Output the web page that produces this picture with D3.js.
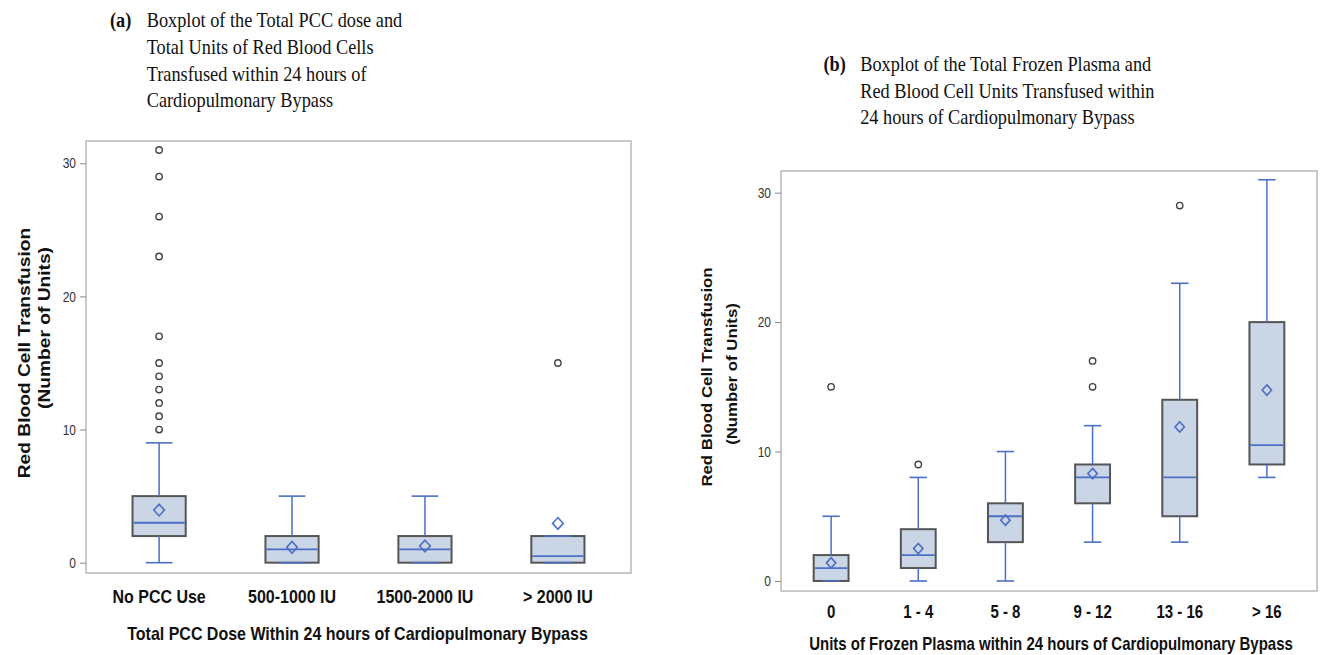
<!DOCTYPE html>
<html>
<head>
<meta charset="utf-8">
<script src="https://cdn.jsdelivr.net/npm/d3@7"></script>
<style>
  body { margin: 0; background: #fff; }
  svg { display: block; }
  .sans { font-family: "Liberation Sans", Arial, sans-serif; }
  .serif { font-family: "Liberation Serif", "Times New Roman", serif; }
</style>
</head>
<body>
<svg width="1322" height="655"></svg>
<script>
// Panel (a): total PCC dose
var pccGroups   = ["No PCC Use", "500-1000 IU", "1500-2000 IU", "> 2000 IU"];
var pccLow      = [0, 0, 0, 0];
var pccQ1       = [2, 0, 0, 0];
var pccMedian   = [3, 1, 1, 0.5];
var pccQ3       = [5, 2, 2, 2];
var pccHigh     = [9, 5, 5, 2];
var pccMean     = [3.95, 1.15, 1.25, 2.95];
var pccOutliers = [[10, 11, 12, 13, 14, 15, 17, 23, 26, 29, 31], [], [], [15]];

// Panel (b): units of frozen plasma
var ffpGroups   = ["0", "1 - 4", "5 - 8", "9 - 12", "13 - 16", "> 16"];
var ffpLow      = [0, 0, 0, 3, 3, 8];
var ffpQ1       = [0, 1, 3, 6, 5, 9];
var ffpMedian   = [1, 2, 5, 8, 8, 10.5];
var ffpQ3       = [2, 4, 6, 9, 14, 20];
var ffpHigh     = [5, 8, 10, 12, 23, 31];
var ffpMean     = [1.4, 2.5, 4.7, 8.3, 11.9, 14.75];
var ffpOutliers = [[15], [9], [], [15, 17], [29], []];

var yTicks = [0, 10, 20, 30];

var titleA = ["Boxplot of the Total PCC dose and", "Total Units of Red Blood Cells",
              "Transfused within 24 hours of", "Cardiopulmonary Bypass"];
var titleB = ["Boxplot of the Total Frozen Plasma and", "Red Blood Cell Units Transfused within",
              "24 hours of Cardiopulmonary Bypass"];

var svg = d3.select("svg"),
    stretch = 1.2,            // source picture is slightly tall, text looks stretched
    boxFill = "#cad5e5",
    boxLine = "#555",
    blue = "#4b6fc6";

// text with a vertical stretch
function txt(g, x, y, s, size, weight, cls, anchor, rot) {
  var t = g.append("text")
    .attr("class", cls)
    .attr("font-size", size + "px")
    .attr("font-weight", weight)
    .attr("text-anchor", anchor || "start")
    .attr("fill", "#111")
    .text(s);
  if (rot) t.attr("transform", "translate(" + x + "," + y + ") rotate(-90) scale(" + stretch + ",1)");
  else t.attr("transform", "translate(" + x + "," + y + ") scale(1," + stretch + ")");
  return t;
}

function drawPanel(p) {
  var g = svg.append("g");

  var x = d3.scalePoint().domain(p.groups).range([p.fx, p.fx + p.fw]).padding(p.pad),
      y = d3.scaleLinear().domain([-0.775, 31.675]).range([p.fy + p.fh, p.fy]);
  var bw = x.step() * 0.4;

  var data = p.groups.map(function(d, i) {
    return {name: d, low: p.low[i], q1: p.q1[i], med: p.med[i], q3: p.q3[i],
            high: p.high[i], mean: p.mean[i], out: p.out[i]};
  });

  // frame
  g.append("rect")
    .attr("x", p.fx).attr("y", p.fy)
    .attr("width", p.fw).attr("height", p.fh)
    .attr("fill", "none").attr("stroke", "#bdbdbd").attr("stroke-width", 1.6);

  // y axis
  var ax = g.append("g")
    .attr("class", "sans")
    .attr("transform", "translate(" + p.fx + ",0)")
    .call(d3.axisLeft(y).tickValues(yTicks).tickSize(6).tickPadding(4));
  ax.select(".domain").remove();
  ax.selectAll(".tick line").attr("stroke", "#8a8a8a");
  ax.selectAll(".tick text")
    .attr("font-size", "12px").attr("fill", "#333")
    .attr("transform", "scale(1," + stretch + ")");

  var box = g.selectAll(".box").data(data).enter().append("g").attr("class", "box");

  box.append("rect")
    .attr("x", function(d) { return x(d.name) - bw / 2; })
    .attr("y", function(d) { return y(d.q3); })
    .attr("width", bw)
    .attr("height", function(d) { return y(d.q1) - y(d.q3); })
    .attr("fill", boxFill).attr("stroke", boxLine).attr("stroke-width", 2);

  // whiskers
  box.append("line")
    .attr("x1", function(d) { return x(d.name); }).attr("x2", function(d) { return x(d.name); })
    .attr("y1", function(d) { return y(d.q3); }).attr("y2", function(d) { return y(d.high); })
    .attr("stroke", blue).attr("stroke-width", 1.5);
  box.append("line")
    .attr("x1", function(d) { return x(d.name); }).attr("x2", function(d) { return x(d.name); })
    .attr("y1", function(d) { return y(d.q1); }).attr("y2", function(d) { return y(d.low); })
    .attr("stroke", blue).attr("stroke-width", 1.5);
  ["high", "low"].forEach(function(k) {
    box.append("line")
      .attr("x1", function(d) { return x(d.name) - bw / 4; })
      .attr("x2", function(d) { return x(d.name) + bw / 4; })
      .attr("y1", function(d) { return y(d[k]); }).attr("y2", function(d) { return y(d[k]); })
      .attr("stroke", blue).attr("stroke-width", 1.6);
  });

  // median
  box.append("line")
    .attr("x1", function(d) { return x(d.name) - bw / 2 + 1; })
    .attr("x2", function(d) { return x(d.name) + bw / 2 - 1; })
    .attr("y1", function(d) { return y(d.med); }).attr("y2", function(d) { return y(d.med); })
    .attr("stroke", blue).attr("stroke-width", 1.8);

  // mean diamond
  box.append("path")
    .attr("d", function(d) {
      var cx = x(d.name), cy = y(d.mean), w = p.dia, h = p.dia * 1.1;
      return "M" + cx + "," + (cy - h) + "L" + (cx + w) + "," + cy +
             "L" + cx + "," + (cy + h) + "L" + (cx - w) + "," + cy + "Z";
    })
    .attr("fill", "none").attr("stroke", blue).attr("stroke-width", 1.6);

  // outliers
  var outs = [];
  data.forEach(function(d) { d.out.forEach(function(v) { outs.push({name: d.name, v: v}); }); });
  g.selectAll(".out").data(outs).enter().append("circle")
    .attr("class", "out")
    .attr("cx", function(d) { return x(d.name); })
    .attr("cy", function(d) { return y(d.v); })
    .attr("r", 3.2)
    .attr("fill", "none").attr("stroke", "#444").attr("stroke-width", 1.4);

  // category labels
  p.groups.forEach(function(d) {
    txt(g, x(d), p.catY, d, p.catSize, "bold", "sans", "middle");
  });

  // axis titles
  txt(g, p.fx + p.fw / 2 + p.xtDx, p.xtY, p.xTitle, p.xtSize, "bold", "sans", "middle");
  txt(g, p.yt1X, p.yt1Y, "Red Blood Cell Transfusion", p.ytSize, "bold", "sans", "middle", true);
  txt(g, p.yt2X, p.yt2Y, "(Number of Units)", p.ytSize, "bold", "sans", "middle", true);

  // panel heading
  txt(g, p.hx, p.hy[0], p.tag, 18.3, "bold", "serif", "start");
  p.title.forEach(function(s, i) {
    txt(g, p.hx + 36.7, p.hy[i], s, 18.3, "normal", "serif", "start");
  });
}

drawPanel({
  groups: pccGroups, low: pccLow, q1: pccQ1, med: pccMedian, q3: pccQ3,
  high: pccHigh, mean: pccMean, out: pccOutliers,
  fx: 86, fy: 141, fw: 545, fh: 432, pad: 0.55, dia: 5.3,
  catY: 602.5, catSize: 16,
  xTitle: "Total PCC Dose Within 24 hours of Cardiopulmonary Bypass",
  xtY: 639.5, xtSize: 16, xtDx: -1,
  yt1X: 29.5, yt1Y: 353, yt2X: 50, yt2Y: 328, ytSize: 16,
  tag: "(a)", title: titleA, hx: 110, hy: [27.3, 54, 80.7, 107.3]
});

drawPanel({
  groups: ffpGroups, low: ffpLow, q1: ffpQ1, med: ffpMedian, q3: ffpQ3,
  high: ffpHigh, mean: ffpMean, out: ffpOutliers,
  fx: 781, fy: 171, fw: 536, fh: 420, pad: 0.575, dia: 4.7,
  catY: 618, catSize: 15,
  xTitle: "Units of Frozen Plasma within 24 hours of Cardiopulmonary Bypass",
  xtY: 650, xtSize: 15, xtDx: 2,
  yt1X: 712, yt1Y: 377, yt2X: 737, yt2Y: 374, ytSize: 14,
  tag: "(b)", title: titleB, hx: 823.5, hy: [71, 97.7, 124.4]
});
</script>
</body>
</html>
